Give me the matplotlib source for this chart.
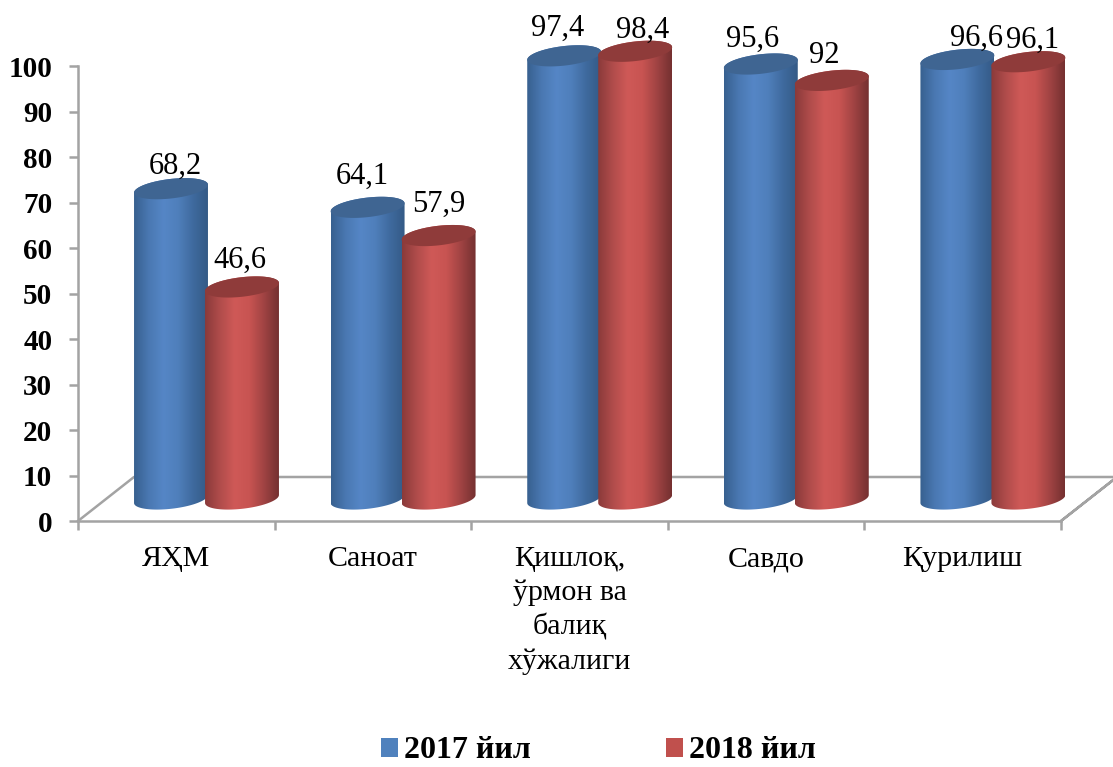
import numpy as np
import matplotlib
matplotlib.use('Agg')
import matplotlib.pyplot as plt
from matplotlib.colors import LinearSegmentedColormap
from matplotlib.patches import Patch, Polygon

plt.rcParams['font.family'] = ['Liberation Serif', 'DejaVu Serif']

categories = ['ЯҲМ', 'Саноат', 'Қишлоқ,\nўрмон ва\nбалиқ\nхўжалиги', 'Савдо', 'Қурилиш']
values_2017 = [68.2, 64.1, 97.4, 95.6, 96.6]
values_2018 = [46.6, 57.9, 98.4, 92, 96.1]
labels_2017 = ['68,2', '64,1', '97,4', '95,6', '96,6']
labels_2018 = ['46,6', '57,9', '98,4', '92', '96,1']
series_names = ['2017 йил', '2018 йил']
y_ticks = list(range(0, 101, 10))

W, H = 1113, 767
left, right, bottom, top = 78, 1061, 521, 66

# shift of the floor back edge, in data units
dx = 56 / 196.6
dy = 44 / 4.55
half_w = 0.188
tilt = 4.0 / 4.55
squash = 9.8 / 4.55

blue_cmap = LinearSegmentedColormap.from_list('b', ['#37608f', '#4a78b2', '#5586c6', '#4f7fbb', '#3f6a9e', '#345a86'])
red_cmap = LinearSegmentedColormap.from_list('r', ['#8a3a3a', '#b04c4b', '#cf5957', '#c85452', '#a04343', '#743030'])
blue_top = '#3f6592'
red_top = '#8f3b3a'

fig = plt.figure(figsize=(W / 100, H / 100), dpi=100)
ax = fig.add_axes([left / W, 1 - bottom / H, (right - left) / W, (bottom - top) / H])
ax.set_xlim(0, 5)
ax.set_ylim(0, 100)
ax.patch.set_visible(False)

grey = '#a3a3a3'
# floor
ax.plot([0, dx, 5 + dx, 5, 5 + dx], [0, dy, dy, 0, dy], color=grey, lw=1.8, clip_on=False, zorder=1)


def ellipse(cx, cy, t):
    return cx + half_w * np.cos(t), cy + tilt * np.cos(t) + squash * np.sin(t)


def cylinder(cx, value, cmap, top_color, z):
    base = dy / 2
    t = np.linspace(0, 2 * np.pi, 120)
    lower = np.linspace(np.pi, 2 * np.pi, 60)
    upper = np.linspace(0, np.pi, 60)
    bx, by = ellipse(cx, base, lower)
    tx, ty = ellipse(cx, base + value, upper)
    body = Polygon(np.column_stack([np.r_[bx, tx], np.r_[by, ty]]), closed=True,
                   transform=ax.transData, fc='none', ec='none')
    ax.add_patch(body)
    body.set_clip_on(False)
    grad = np.linspace(0, 1, 256).reshape(1, -1)
    im = ax.imshow(grad, cmap=cmap, aspect='auto', zorder=z,
                   extent=[cx - half_w, cx + half_w, base - squash - tilt, base + value + squash + tilt])
    im.set_clip_box(fig.bbox)
    im.set_clip_path(body)
    ex, ey = ellipse(cx, base + value, t)
    ax.fill(ex, ey, color=top_color, lw=0, zorder=z + 0.1, clip_on=False)


offset_a = 93 / 196.6
step = 71 / 196.6
for i in range(len(categories)):
    cylinder(i + offset_a, values_2017[i], blue_cmap, blue_top, 3 + i)
    cylinder(i + offset_a + step, values_2018[i], red_cmap, red_top, 3.5 + i)
ax.set_xlim(0, 5)
ax.set_ylim(0, 100)

# data labels, nudged by hand like the original (px)
nudge_2017 = [(4, 22), (-5, 31), (-7, 28), (-8, 25), (19, 21)]
nudge_2018 = [(-2, 27), (0, 31), (7, 21), (-8, 25), (4, 21)]
for i in range(len(categories)):
    x1 = i + offset_a
    x2 = x1 + step
    ax.annotate(labels_2017[i], (x1, dy / 2 + values_2017[i]), xytext=nudge_2017[i], textcoords='offset pixels',
                ha='center', va='center', fontsize=22, annotation_clip=False, zorder=20)
    ax.annotate(labels_2018[i], (x2, dy / 2 + values_2018[i]), xytext=nudge_2018[i], textcoords='offset pixels',
                ha='center', va='center', fontsize=22, annotation_clip=False, zorder=20)

for s in ['top', 'right']:
    ax.spines[s].set_visible(False)
for s in ['left', 'bottom']:
    ax.spines[s].set_color(grey)
    ax.spines[s].set_linewidth(1.8)

ax.set_yticks(y_ticks)
ax.set_yticklabels([str(v) for v in y_ticks], fontsize=21, fontweight='bold')
ax.tick_params(axis='y', length=6.5, width=1.8, color=grey, pad=12)
ax.set_xticks(range(6))
ax.set_xticklabels([])
ax.tick_params(axis='x', which='major', length=6.5, width=1.8, color=grey)
ax.set_xticks(np.arange(len(categories)) + 0.5, minor=True)
ax.set_xticklabels(categories, minor=True, fontsize=21.6, linespacing=1.37)
ax.tick_params(axis='x', which='minor', length=0, pad=18)

handles = [Patch(fc='#4f81bd', ec='none'), Patch(fc='#c0504d', ec='none')]
fig.legend(handles, series_names, ncol=2, loc='center', bbox_to_anchor=(598.5 / W, 1 - 751 / H), frameon=False,
           prop={'size': 23, 'weight': 'bold'}, handlelength=0.53, handleheight=0.53,
           handletextpad=0.19, columnspacing=4.25, borderpad=0)

fig.savefig('out.png', dpi=100)
